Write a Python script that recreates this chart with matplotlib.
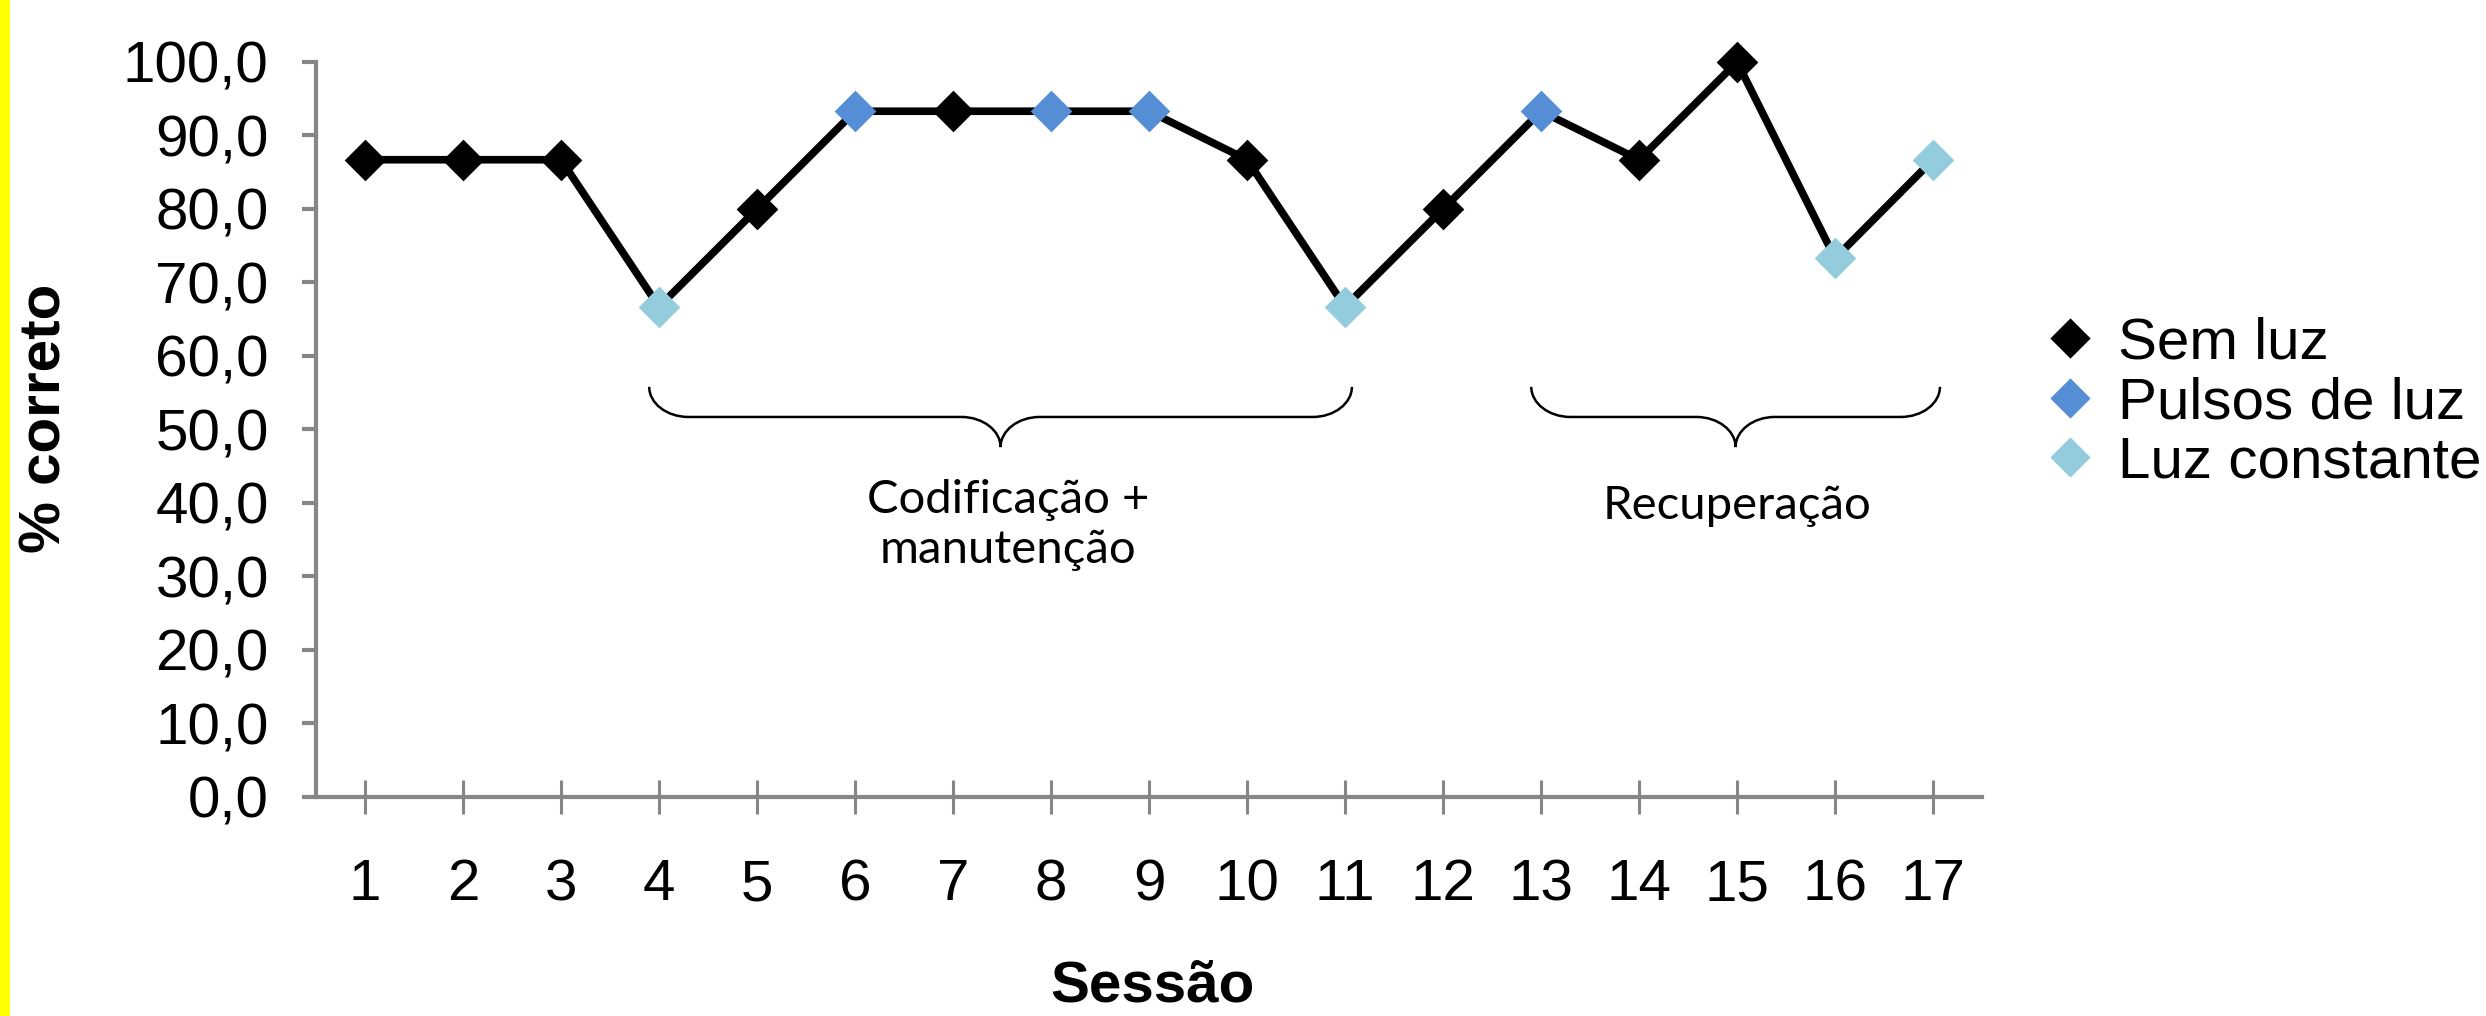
import matplotlib.pyplot as plt
from matplotlib.path import Path
from matplotlib.patches import PathPatch, Rectangle
from matplotlib.lines import Line2D

# sessões e % de acertos
sessions = list(range(1, 18))
pct_correct = [86.7, 86.7, 86.7, 66.7, 80.0, 93.3, 93.3, 93.3, 93.3,
               86.7, 66.7, 80.0, 93.3, 86.7, 100.0, 73.3, 86.7]
condition = ["Sem luz", "Sem luz", "Sem luz", "Luz constante", "Sem luz",
             "Pulsos de luz", "Sem luz", "Pulsos de luz", "Pulsos de luz",
             "Sem luz", "Luz constante", "Sem luz", "Pulsos de luz",
             "Sem luz", "Sem luz", "Luz constante", "Luz constante"]

cond_names = ["Sem luz", "Pulsos de luz", "Luz constante"]
cond_colors = {"Sem luz": "#000000",
               "Pulsos de luz": "#558ED5",
               "Luz constante": "#93CDDD"}

# fases marcadas com chaves (primeira e última sessão)
phases = [("Codificação +\nmanutenção", 4, 11),
          ("Recuperação", 13, 17)]

AXIS_GRAY = "#868686"
DIAMOND = [(0, 1), (1, 0), (0, -1), (-1, 0), (0, 1)]


def draw_brace(ax, x0, x1, y_top, y_bar, y_tip, w):
    xc = (x0 + x1) / 2
    k = 0.55
    verts = [
        (x0, y_top),
        (x0, y_top - k * (y_top - y_bar)), (x0 + w * (1 - k), y_bar), (x0 + w, y_bar),
        (xc - w, y_bar),
        (xc - w + k * w, y_bar), (xc, y_bar - (1 - k) * (y_bar - y_tip)), (xc, y_tip),
        (xc, y_bar - (1 - k) * (y_bar - y_tip)), (xc + w - k * w, y_bar), (xc + w, y_bar),
        (x1 - w, y_bar),
        (x1 - w * (1 - k), y_bar), (x1, y_top - k * (y_top - y_bar)), (x1, y_top),
    ]
    codes = ([Path.MOVETO] + [Path.CURVE4] * 3 + [Path.LINETO] + [Path.CURVE4] * 6
             + [Path.LINETO] + [Path.CURVE4] * 3)
    ax.add_patch(PathPatch(Path(verts, codes), fill=False, edgecolor="black",
                           linewidth=1.8, clip_on=False))


fig = plt.figure(figsize=(24.86, 10.16), dpi=100)
ax = fig.add_axes([0.1271, 0.2156, 0.7973 - 0.1271, 0.939 - 0.2156])

# faixa amarela na margem esquerda
fig.patches.append(Rectangle((0, 0), 10 / 2486, 1, transform=fig.transFigure,
                             facecolor="#FFFF00", edgecolor="none"))

# linha preta ligando todas as sessões
ax.plot(sessions, pct_correct, color="black", linewidth=5.5, zorder=2,
        solid_joinstyle="miter", clip_on=False)

handles = []
for name in cond_names:
    xs = [s for s, c in zip(sessions, condition) if c == name]
    ys = [v for v, c in zip(pct_correct, condition) if c == name]
    ax.plot(xs, ys, linestyle="none", marker=DIAMOND, markersize=30,
            markerfacecolor=cond_colors[name], markeredgewidth=0,
            zorder=3, clip_on=False)
    handles.append(Line2D([], [], linestyle="none", marker=DIAMOND,
                          markersize=29, markerfacecolor=cond_colors[name],
                          markeredgewidth=0, label=name))

ax.set_xlim(0.5, 17.5)
ax.set_ylim(0, 100)
ax.set_xticks(sessions)
ax.set_xticklabels([str(s) for s in sessions])
ax.set_yticks(range(0, 101, 10))
ax.set_yticklabels([f"{v:.1f}".replace(".", ",") for v in range(0, 101, 10)])

for side in ["top", "right"]:
    ax.spines[side].set_visible(False)
for side in ["left", "bottom"]:
    ax.spines[side].set_color(AXIS_GRAY)
    ax.spines[side].set_linewidth(3)

ax.tick_params(axis="y", direction="out", length=10, width=3, color=AXIS_GRAY,
               pad=24, labelsize=42)
ax.tick_params(axis="x", direction="inout", length=24, width=2.2,
               color=AXIS_GRAY, pad=32, labelsize=42)
for lab in ax.get_xticklabels() + ax.get_yticklabels():
    lab.set_fontfamily("Liberation Sans")

# chaves e nomes das fases
for label, first, last in phases:
    draw_brace(ax, first - 0.1, last + 0.07, 55.8, 51.7, 47.6, 0.4)

ax.text(7.56, 37.0, phases[0][0], ha="center", va="center", fontsize=34,
        family="Lato", linespacing=1.25)
ax.text(15.0, 37.8, phases[1][0], ha="center", va="baseline", fontsize=34,
        family="Lato")

# rótulos dos eixos
fig.text(46 / 2486, 1 - 418 / 1016, "% correto", rotation=90, ha="center",
         va="center", fontsize=42, fontweight="bold", family="Liberation Sans")
fig.text(1153 / 2486, 1 - 1014 / 1016, "Sessão", ha="center", va="bottom",
         fontsize=42, fontweight="bold", family="Liberation Sans")

leg = ax.legend(handles=handles, loc="center left",
                bbox_to_anchor=(2047 / 2486, 1 - 403 / 1016),
                bbox_transform=fig.transFigure, frameon=False,
                handlelength=0.8, handletextpad=0.41, labelspacing=0.1,
                borderpad=0, borderaxespad=0,
                prop={"family": "Liberation Sans", "size": 42})

fig.savefig("out.png", dpi=100, facecolor="white")
